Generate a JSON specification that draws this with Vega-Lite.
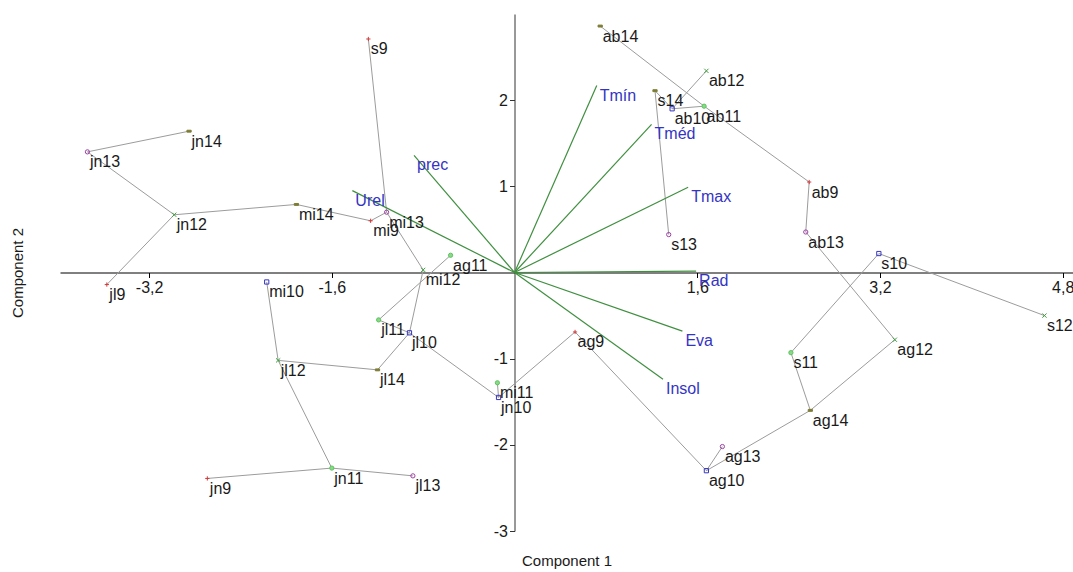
{
  "$schema": "https://vega.github.io/schema/vega-lite/v6.json",
  "width": 1013,
  "height": 517,
  "autosize": {"type": "none"},
  "padding": {"left": 60, "top": 14, "right": 0, "bottom": 41},
  "background": "white",
  "config": {"view": {"stroke": null}, "font": "Liberation Sans"},
  "datasets": {
    "points": [
      {"label": "ab9", "x": 2.58, "y": 1.05, "year": "9"},
      {"label": "ab10", "x": 1.38, "y": 1.90, "year": "10"},
      {"label": "ab11", "x": 1.66, "y": 1.93, "year": "11"},
      {"label": "ab12", "x": 1.68, "y": 2.34, "year": "12"},
      {"label": "ab13", "x": 2.55, "y": 0.47, "year": "13"},
      {"label": "ab14", "x": 0.75, "y": 2.86, "year": "14"},
      {"label": "mi9", "x": -1.26, "y": 0.60, "year": "9"},
      {"label": "mi10", "x": -2.17, "y": -0.11, "year": "10"},
      {"label": "mi11", "x": -0.15, "y": -1.28, "year": "11"},
      {"label": "mi12", "x": -0.80, "y": 0.03, "year": "12"},
      {"label": "mi13", "x": -1.12, "y": 0.70, "year": "13"},
      {"label": "mi14", "x": -1.91, "y": 0.79, "year": "14"},
      {"label": "jn9", "x": -2.69, "y": -2.39, "year": "9"},
      {"label": "jn10", "x": -0.14, "y": -1.45, "year": "10"},
      {"label": "jn11", "x": -1.60, "y": -2.27, "year": "11"},
      {"label": "jn12", "x": -2.98, "y": 0.67, "year": "12"},
      {"label": "jn13", "x": -3.74, "y": 1.40, "year": "13"},
      {"label": "jn14", "x": -2.85, "y": 1.64, "year": "14"},
      {"label": "jl9", "x": -3.57, "y": -0.14, "year": "9"},
      {"label": "jl10", "x": -0.92, "y": -0.70, "year": "10"},
      {"label": "jl11", "x": -1.19, "y": -0.55, "year": "11"},
      {"label": "jl12", "x": -2.07, "y": -1.02, "year": "12"},
      {"label": "jl13", "x": -0.89, "y": -2.36, "year": "13"},
      {"label": "jl14", "x": -1.20, "y": -1.13, "year": "14"},
      {"label": "ag9", "x": 0.53, "y": -0.69, "year": "9"},
      {"label": "ag10", "x": 1.68, "y": -2.30, "year": "10"},
      {"label": "ag11", "x": -0.56, "y": 0.20, "year": "11"},
      {"label": "ag12", "x": 3.33, "y": -0.78, "year": "12"},
      {"label": "ag13", "x": 1.82, "y": -2.02, "year": "13"},
      {"label": "ag14", "x": 2.59, "y": -1.60, "year": "14"},
      {"label": "s9", "x": -1.28, "y": 2.71, "year": "9"},
      {"label": "s10", "x": 3.19, "y": 0.22, "year": "10"},
      {"label": "s11", "x": 2.42, "y": -0.93, "year": "11"},
      {"label": "s12", "x": 4.64, "y": -0.50, "year": "12"},
      {"label": "s13", "x": 1.35, "y": 0.44, "year": "13"},
      {"label": "s14", "x": 1.23, "y": 2.11, "year": "14"}
    ],
    "edges": [
      {"from": "jn14", "to": "jn13"},
      {"from": "jn13", "to": "jn12"},
      {"from": "jn12", "to": "mi14"},
      {"from": "jn12", "to": "jl9"},
      {"from": "mi14", "to": "mi9"},
      {"from": "mi9", "to": "mi13"},
      {"from": "mi13", "to": "s9"},
      {"from": "mi13", "to": "mi12"},
      {"from": "ag11", "to": "jl11"},
      {"from": "mi12", "to": "jl10"},
      {"from": "jl11", "to": "jl10"},
      {"from": "jl10", "to": "jl14"},
      {"from": "jl10", "to": "jn10"},
      {"from": "jn10", "to": "mi11"},
      {"from": "jn10", "to": "ag9"},
      {"from": "ag9", "to": "ag10"},
      {"from": "ag10", "to": "ag13"},
      {"from": "ag10", "to": "ag14"},
      {"from": "ag14", "to": "s11"},
      {"from": "ag14", "to": "ag12"},
      {"from": "s11", "to": "s10"},
      {"from": "s10", "to": "s12"},
      {"from": "ag12", "to": "ab13"},
      {"from": "ab13", "to": "ab9"},
      {"from": "ab9", "to": "ab11"},
      {"from": "ab11", "to": "ab14"},
      {"from": "ab11", "to": "ab10"},
      {"from": "ab10", "to": "ab12"},
      {"from": "s14", "to": "s13"},
      {"from": "s14", "to": "ab10"},
      {"from": "jl14", "to": "jl12"},
      {"from": "jl12", "to": "mi10"},
      {"from": "jl12", "to": "jn11"},
      {"from": "jn11", "to": "jn9"},
      {"from": "jn11", "to": "jl13"}
    ],
    "vectors": [
      {"var": "Tmín", "x": 0.72, "y": 2.17},
      {"var": "Tméd", "x": 1.20, "y": 1.72},
      {"var": "Tmax", "x": 1.52, "y": 0.99},
      {"var": "Rad", "x": 1.59, "y": 0.015},
      {"var": "Eva", "x": 1.47, "y": -0.68},
      {"var": "Insol", "x": 1.30, "y": -1.24},
      {"var": "prec", "x": -0.88, "y": 1.36},
      {"var": "Urel", "x": -1.42, "y": 0.95}
    ]
  },
  "layer": [
    {
      "data": {"name": "edges"},
      "transform": [
        {"lookup": "from", "from": {"data": {"name": "points"}, "key": "label", "fields": ["x", "y"]}, "as": ["x1", "y1"]},
        {"lookup": "to", "from": {"data": {"name": "points"}, "key": "label", "fields": ["x", "y"]}, "as": ["x2", "y2"]}
      ],
      "mark": {"type": "rule", "color": "#9c9c9c", "strokeWidth": 1},
      "encoding": {
        "x": {
          "field": "x1", "type": "quantitative",
          "scale": {"domain": [-3.98, 4.89], "nice": false, "zero": false},
          "axis": {
            "title": "Component 1",
            "values": [-3.2, -1.6, 1.6, 3.2, 4.8],
            "labelExpr": "replace(replace(format(datum.value, '.1f'), '.', ','), '−', '-')",
            "offset": -258.5,
            "grid": false,
            "domainColor": "#000000",
            "domainWidth": 1,
            "tickColor": "#000000",
            "tickSize": 5,
            "labelFontSize": 16,
            "labelColor": "#1a1a1a",
            "labelPadding": 2,
            "titleFontSize": 15,
            "titleFontWeight": "normal",
            "titleColor": "#1a1a1a",
            "titleY": 281,
            "titleBaseline": "top"
          }
        },
        "y": {
          "field": "y1", "type": "quantitative",
          "scale": {"domain": [-3, 3], "nice": false, "zero": false},
          "axis": {
            "title": "Component 2",
            "values": [-3, -2, -1, 1, 2],
            "labelExpr": "replace(format(datum.value, 'd'), '−', '-')",
            "offset": -454.5,
            "grid": false,
            "domainColor": "#333333",
            "domainWidth": 1,
            "tickColor": "#333333",
            "tickSize": 5,
            "labelFontSize": 16,
            "labelColor": "#1a1a1a",
            "labelPadding": 2,
            "titleFontSize": 15,
            "titleFontWeight": "normal",
            "titleColor": "#1a1a1a",
            "titleX": -489,
            "titleY": 258.5
          }
        },
        "x2": {"field": "x2"},
        "y2": {"field": "y2"}
      }
    },
    {
      "data": {"name": "vectors"},
      "mark": {"type": "rule", "color": "#3f8f3f", "strokeWidth": 1.2},
      "encoding": {
        "x": {"field": "x", "type": "quantitative"},
        "y": {"field": "y", "type": "quantitative"},
        "x2": {"datum": 0},
        "y2": {"datum": 0}
      }
    },
    {
      "data": {"name": "points"},
      "mark": {"type": "point", "filled": false, "strokeWidth": 1, "opacity": 1},
      "encoding": {
        "x": {"field": "x", "type": "quantitative"},
        "y": {"field": "y", "type": "quantitative"},
        "shape": {
          "field": "year", "type": "nominal", "legend": null,
          "scale": {
            "domain": ["9", "10", "11", "12", "13", "14"],
            "range": ["M-1,0H1M0,-1V1", "square", "circle", "M-1,-1L1,1M-1,1L1,-1", "circle", "M-1,-0.45H1V0.45H-1Z"]
          }
        },
        "size": {
          "field": "year", "type": "nominal", "legend": null,
          "scale": {
            "domain": ["9", "10", "11", "12", "13", "14"],
            "range": [18, 18, 9, 18, 16, 18]
          }
        },
        "color": {
          "field": "year", "type": "nominal", "legend": null,
          "scale": {
            "domain": ["9", "10", "11", "12", "13", "14"],
            "range": ["#d03a3a", "#3535c0", "#5cc45c", "#3f9f3f", "#a040a8", "#7d7d35"]
          }
        },
        "fill": {
          "field": "year", "type": "nominal", "legend": null,
          "scale": {
            "domain": ["9", "10", "11", "12", "13", "14"],
            "range": ["transparent", "transparent", "#8ad88a", "transparent", "transparent", "#7d7d35"]
          }
        }
      }
    },
    {
      "data": {"name": "points"},
      "mark": {"type": "text", "align": "left", "baseline": "alphabetic", "dx": 2.5, "dy": 15.5, "fontSize": 16, "color": "#1a1a1a"},
      "encoding": {
        "x": {"field": "x", "type": "quantitative"},
        "y": {"field": "y", "type": "quantitative"},
        "text": {"field": "label"}
      }
    },
    {
      "data": {"name": "vectors"},
      "mark": {"type": "text", "align": "left", "baseline": "alphabetic", "dx": 3, "dy": 15, "fontSize": 16, "color": "#3434c4"},
      "encoding": {
        "x": {"field": "x", "type": "quantitative"},
        "y": {"field": "y", "type": "quantitative"},
        "text": {"field": "var"}
      }
    }
  ]
}
